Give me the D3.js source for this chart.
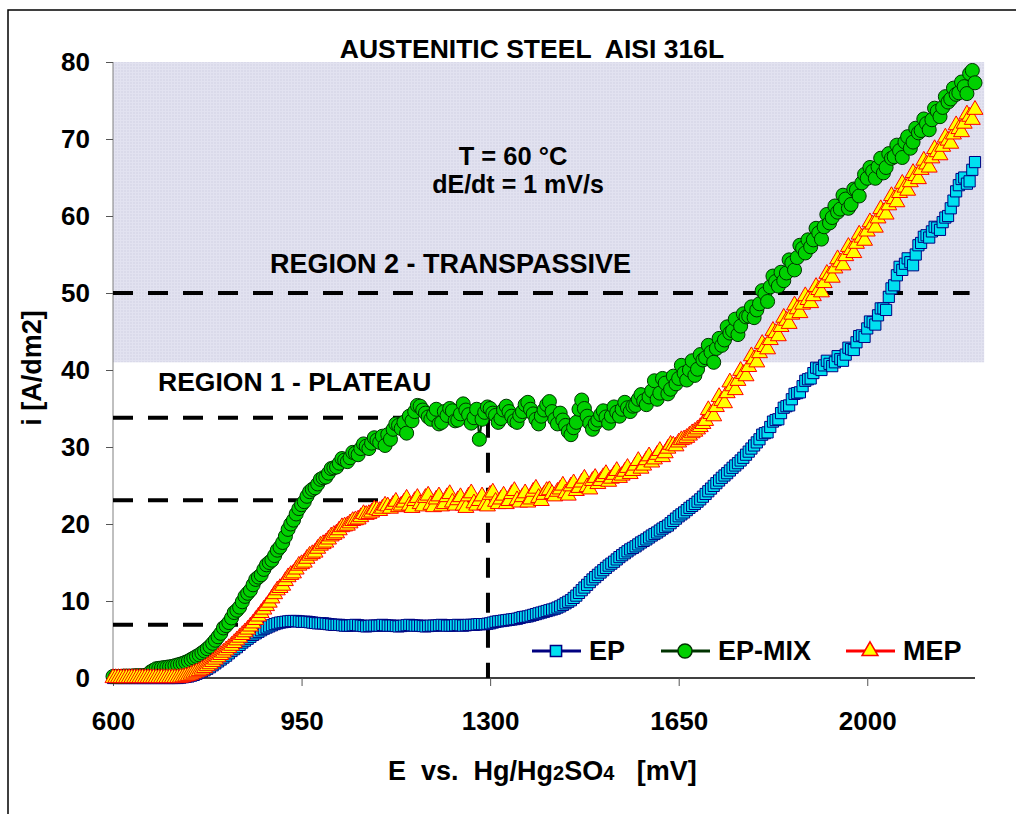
<!DOCTYPE html>
<html>
<head>
<meta charset="utf-8">
<script src="https://cdn.jsdelivr.net/npm/d3@7"></script>
<style>
  body { margin: 0; background: #fff; }
  svg text { font-family: "Liberation Sans", Arial, sans-serif; font-weight: bold; fill: #000; }
</style>
</head>
<body>
<div id="graph"></div>
<script>
// Chart data (E in mV vs. Hg/Hg2SO4, i in A/dm2), one reading every 5 mV
var potential = [
  600, 605, 610, 615, 620, 625, 630, 635, 640, 645, 650, 655, 660, 665, 670, 675, 680, 685, 690, 695,
  700, 705, 710, 715, 720, 725, 730, 735, 740, 745, 750, 755, 760, 765, 770, 775, 780, 785, 790, 795,
  800, 805, 810, 815, 820, 825, 830, 835, 840, 845, 850, 855, 860, 865, 870, 875, 880, 885, 890, 895,
  900, 905, 910, 915, 920, 925, 930, 935, 940, 945, 950, 955, 960, 965, 970, 975, 980, 985, 990, 995,
  1000, 1005, 1010, 1015, 1020, 1025, 1030, 1035, 1040, 1045, 1050, 1055, 1060, 1065, 1070, 1075, 1080, 1085, 1090, 1095,
  1100, 1105, 1110, 1115, 1120, 1125, 1130, 1135, 1140, 1145, 1150, 1155, 1160, 1165, 1170, 1175, 1180, 1185, 1190, 1195,
  1200, 1205, 1210, 1215, 1220, 1225, 1230, 1235, 1240, 1245, 1250, 1255, 1260, 1265, 1270, 1275, 1280, 1285, 1290, 1295,
  1300, 1305, 1310, 1315, 1320, 1325, 1330, 1335, 1340, 1345, 1350, 1355, 1360, 1365, 1370, 1375, 1380, 1385, 1390, 1395,
  1400, 1405, 1410, 1415, 1420, 1425, 1430, 1435, 1440, 1445, 1450, 1455, 1460, 1465, 1470, 1475, 1480, 1485, 1490, 1495,
  1500, 1505, 1510, 1515, 1520, 1525, 1530, 1535, 1540, 1545, 1550, 1555, 1560, 1565, 1570, 1575, 1580, 1585, 1590, 1595,
  1600, 1605, 1610, 1615, 1620, 1625, 1630, 1635, 1640, 1645, 1650, 1655, 1660, 1665, 1670, 1675, 1680, 1685, 1690, 1695,
  1700, 1705, 1710, 1715, 1720, 1725, 1730, 1735, 1740, 1745, 1750, 1755, 1760, 1765, 1770, 1775, 1780, 1785, 1790, 1795,
  1800, 1805, 1810, 1815, 1820, 1825, 1830, 1835, 1840, 1845, 1850, 1855, 1860, 1865, 1870, 1875, 1880, 1885, 1890, 1895,
  1900, 1905, 1910, 1915, 1920, 1925, 1930, 1935, 1940, 1945, 1950, 1955, 1960, 1965, 1970, 1975, 1980, 1985, 1990, 1995,
  2000, 2005, 2010, 2015, 2020, 2025, 2030, 2035, 2040, 2045, 2050, 2055, 2060, 2065, 2070, 2075, 2080, 2085, 2090, 2095,
  2100, 2105, 2110, 2115, 2120, 2125, 2130, 2135, 2140, 2145, 2150, 2155, 2160, 2165, 2170, 2175, 2180, 2185, 2190, 2195,
  2200
];

var epValues = [
  0, 0, 0, 0, 0, 0, 0, 0, 0, 0, 0, 0, 0, 0, 0, 0, 0, 0, 0, 0,
  0, 0, 0, 0, 0, 0.05, 0.1, 0.15, 0.2, 0.3, 0.4, 0.55, 0.7, 0.85, 1.0, 1.2, 1.4, 1.65, 1.9, 2.15,
  2.4, 2.65, 2.9, 3.2, 3.5, 3.75, 4.0, 4.3, 4.6, 4.85, 5.1, 5.35, 5.6, 5.8, 6.0, 6.2, 6.4, 6.55, 6.7, 6.85,
  7.0, 7.1, 7.2, 7.25, 7.3, 7.35, 7.4, 7.4, 7.4, 7.35, 7.3, 7.3, 7.3, 7.25, 7.2, 7.15, 7.1, 7.1, 7.1, 7.05,
  7.0, 6.95, 6.9, 6.9, 6.9, 6.85, 6.8, 6.8, 6.8, 6.85, 6.9, 6.85, 6.8, 6.75, 6.7, 6.75, 6.8, 6.8, 6.8, 6.8,
  6.9, 6.85, 6.8, 6.8, 6.8, 6.75, 6.7, 6.75, 6.8, 6.85, 6.9, 6.85, 6.8, 6.8, 6.8, 6.75, 6.7, 6.75, 6.8, 6.8,
  6.8, 6.85, 6.9, 6.85, 6.8, 6.8, 6.8, 6.85, 6.9, 6.85, 6.8, 6.85, 6.9, 6.9, 6.9, 6.95, 7.0, 7.0, 7.0, 7.05,
  7.1, 7.2, 7.3, 7.35, 7.4, 7.45, 7.5, 7.55, 7.6, 7.65, 7.7, 7.8, 7.9, 7.95, 8.0, 8.1, 8.2, 8.3, 8.4, 8.5,
  8.6, 8.7, 8.8, 8.9, 9.0, 9.15, 9.3, 9.5, 9.7, 9.9, 10.1, 10.4, 10.7, 11.05, 11.4, 11.75, 12.1, 12.45, 12.8, 13.1,
  13.4, 13.7, 14.0, 14.3, 14.6, 14.85, 15.1, 15.4, 15.7, 15.95, 16.2, 16.45, 16.7, 16.9, 17.1, 17.35, 17.6, 17.8, 18.0, 18.25,
  18.5, 18.7, 18.9, 19.15, 19.4, 19.6, 19.8, 20.1, 20.4, 20.7, 21.0, 21.25, 21.5, 21.8, 22.1, 22.35, 22.6, 22.9, 23.2, 23.55,
  23.9, 24.25, 24.6, 24.95, 25.3, 25.65, 26.0, 26.3, 26.6, 26.95, 27.3, 27.6, 27.9, 28.25, 28.6, 29.0, 29.4, 29.8, 30.2, 30.6,
  31.0, 31.6, 31.8, 31.9, 32.6, 33.3, 33.5, 33.6, 34.4, 35.1, 35.3, 35.4, 36.2, 36.9, 37.0, 37.1, 37.9, 38.6, 38.8, 38.9,
  39.6, 40.3, 40.2, 40.0, 40.6, 41.2, 40.8, 40.5, 41.0, 41.8, 41.4, 41.2, 42.0, 42.9, 42.7, 42.6, 43.6, 44.4, 44.5, 44.3,
  45.4, 46.3, 46.2, 45.9, 47.1, 48.0, 48.0, 47.8, 49.5, 50.6, 51.0, 52.3, 53.4, 53.0, 53.8, 54.5, 54.0, 53.6, 55.0, 56.2,
  56.5, 57.3, 57.5, 57.2, 58.0, 58.6, 58.5, 58.2, 59.2, 59.8, 60.0, 61.0, 62.0, 63.2, 64.0, 64.8, 65.0, 64.2, 64.5, 66.0,
  67.0
];

var epMixValues = [
  0.2, 0.2, 0.2, 0.2, 0.25, 0.25, 0.25, 0.25, 0.3, 0.3, 0.3, 0.3, 0.35, 0.4, 0.8, 1.0, 1.2, 1.25, 1.3, 1.35,
  1.4, 1.45, 1.5, 1.6, 1.7, 1.8, 1.9, 2.05, 2.2, 2.4, 2.6, 2.8, 3.0, 3.25, 3.5, 3.8, 4.1, 4.5, 4.9, 5.35,
  5.8, 6.5, 6.8, 7.2, 7.8, 8.5, 8.8, 9.2, 9.9, 10.6, 11.0, 11.4, 12.1, 12.8, 13.1, 13.4, 14.1, 14.7, 15.0, 15.3,
  15.9, 16.6, 17.0, 17.6, 18.4, 19.3, 20.0, 20.5, 21.3, 22.0, 22.5, 22.9, 23.6, 24.2, 24.5, 24.7, 25.2, 25.8, 26.0, 26.1,
  26.6, 27.2, 27.3, 27.4, 27.9, 28.5, 28.3, 28.1, 28.6, 29.3, 29.2, 29.0, 29.8, 30.4, 30.1, 29.8, 30.5, 31.2, 30.9, 30.6,
  31.4, 30.2, 31.6, 31.0, 32.3, 33.0, 32.8, 32.4, 33.2, 31.8, 34.0, 33.4, 34.6, 35.4, 35.3, 34.8, 34.4, 33.9, 33.6, 34.2,
  34.9, 33.0, 33.2, 34.6, 34.1, 35.0, 34.7, 33.4, 33.5, 34.3, 35.6, 34.8, 34.2, 33.1, 33.8, 34.9, 31.0, 33.6, 34.5, 35.2,
  35.0, 34.4, 34.1, 33.2, 33.7, 34.8, 35.3, 34.6, 34.0, 33.4, 33.2, 34.1, 34.6, 35.5, 35.8, 34.9, 34.3, 33.6, 33.0, 34.0,
  34.8, 35.5, 35.9, 34.6, 33.6, 33.0, 34.4, 33.5, 32.8, 32.0, 31.6, 32.5, 33.2, 34.9, 36.1, 35.0, 34.0, 33.1, 32.3, 33.0,
  33.5, 34.2, 34.7, 33.9, 33.1, 34.0, 35.2, 34.5, 34.0, 34.9, 35.8, 35.1, 34.6, 35.3, 35.4, 36.2, 36.8, 36.0, 35.5, 36.5,
  37.3, 38.6, 36.2, 37.0, 38.9, 38.3, 36.9, 37.5, 39.2, 38.2, 38.9, 40.6, 39.6, 38.7, 40.0, 41.2, 39.3, 40.1, 42.0, 41.3,
  41.6, 43.2, 42.3, 41.0, 42.8, 44.1, 43.2, 43.9, 45.6, 44.8, 45.1, 46.6, 44.6, 45.7, 47.3, 46.9, 47.0, 48.2, 46.8, 47.8,
  48.6, 50.3, 49.9, 48.9, 50.8, 52.2, 51.5, 50.9, 52.7, 51.6, 52.6, 54.3, 53.9, 53.0, 54.6, 56.2, 55.8, 55.2, 56.9, 56.0,
  56.9, 58.4, 57.8, 57.0, 58.6, 60.2, 59.1, 59.8, 61.3, 60.5, 60.9, 62.7, 62.2, 61.0, 61.5, 63.5, 63.4, 62.6, 64.3, 65.4,
  64.9, 66.3, 65.8, 64.9, 66.4, 67.5, 65.6, 66.3, 68.1, 67.5, 67.7, 69.2, 68.5, 67.6, 69.6, 70.3, 68.8, 69.6, 71.4, 70.8,
  71.1, 72.6, 72.0, 71.2, 72.5, 74.0, 73.6, 72.9, 74.1, 75.5, 74.8, 75.2, 76.6, 75.8, 76.0, 77.4, 76.8, 75.9, 78.5, 78.9,
  77.3
];

var mepValues = [
  0, 0, 0, 0, 0, 0, 0, 0, 0, 0, 0, 0, 0, 0, 0, 0, 0, 0, 0, 0,
  0, 0, 0, 0, 0, 0.05, 0.1, 0.2, 0.3, 0.45, 0.6, 0.75, 0.9, 1.1, 1.3, 1.55, 1.8, 2.1, 2.4, 2.7,
  3.0, 3.3, 3.6, 3.9, 4.2, 4.55, 4.9, 5.25, 5.6, 5.95, 6.3, 6.7, 7.1, 7.55, 8.0, 8.45, 8.9, 9.35, 9.8, 10.35,
  10.9, 11.4, 11.7, 12.0, 12.6, 13.1, 13.4, 13.6, 14.1, 14.6, 14.8, 15.0, 15.5, 15.9, 16.1, 16.3, 16.8, 17.2, 17.4, 17.6,
  18.0, 18.4, 18.6, 18.8, 19.2, 19.6, 19.7, 19.8, 20.1, 20.4, 20.5, 20.6, 20.9, 21.3, 21.2, 21.3, 21.5, 21.9, 21.8, 21.7,
  22.0, 22.4, 22.3, 22.0, 22.5, 22.9, 22.2, 22.4, 22.8, 23.3, 22.4, 22.1, 23.0, 23.4, 22.6, 22.3, 23.4, 23.7, 22.5, 22.2,
  23.2, 23.6, 22.3, 22.6, 23.5, 23.9, 22.8, 22.4, 23.1, 23.5, 22.4, 22.1, 23.6, 24.0, 22.7, 22.4, 23.0, 23.6, 22.5, 22.3,
  23.8, 24.1, 22.9, 22.6, 23.2, 23.7, 22.6, 23.0, 23.9, 24.3, 23.1, 22.8, 23.5, 24.0, 22.8, 23.2, 24.2, 24.6, 23.4, 23.0,
  23.8, 24.3, 24.4, 23.9, 23.6, 24.2, 24.5, 25.0, 24.0, 23.7, 24.9, 25.3, 24.3, 24.7, 25.4, 25.9, 24.8, 24.5, 25.6, 26.0,
  25.2, 25.6, 26.1, 26.5, 25.5, 25.9, 26.4, 26.9, 26.0, 26.3, 26.8, 27.3, 26.5, 26.9, 27.6, 28.2, 27.2, 27.6, 28.3, 28.8,
  28.0, 28.4, 29.0, 29.5, 28.7, 29.2, 29.8, 30.3, 30.2, 30.1, 30.6, 30.9, 31.0, 31.2, 31.5, 31.8, 32.0, 32.3, 32.6, 33.0,
  33.4, 34.8, 34.3, 34.0, 35.2, 36.5, 36.0, 35.7, 37.0, 38.4, 37.9, 37.4, 38.6, 39.9, 39.5, 39.2, 40.4, 41.8, 41.4, 41.0,
  42.2, 43.4, 43.0, 42.7, 43.9, 45.1, 44.8, 44.4, 45.6, 46.8, 46.4, 46.0, 47.2, 48.4, 47.9, 47.4, 48.5, 49.6, 49.1, 48.7,
  49.6, 50.8, 50.4, 50.1, 51.3, 52.5, 52.3, 52.0, 53.2, 54.4, 54.0, 53.6, 54.8, 56.0, 55.6, 55.2, 56.4, 57.6, 57.2, 56.8,
  58.0, 59.2, 58.9, 58.5, 59.7, 60.9, 60.5, 60.2, 61.4, 62.6, 62.2, 61.8, 63.0, 64.2, 63.7, 63.3, 64.4, 65.6, 65.2, 64.8,
  66.0, 67.2, 66.7, 66.3, 67.5, 68.7, 68.3, 67.9, 69.0, 70.2, 69.8, 69.4, 70.6, 71.8, 71.3, 70.9, 72.0, 73.2, 72.9, 72.5,
  73.8
];

// Axis ticks
var xTicks = [600, 950, 1300, 1650, 2000];
var yTicks = [0, 10, 20, 30, 40, 50, 60, 70, 80];

// Reference lines: plateau levels, transpassive limit, plateau end potential
var plateauLevels = [33.8, 23.1, 6.9];
var transpassiveLevel = 50;
var plateauEnd = 1296;
var regionTwoBottom = 41;

// Series definitions
var series = [
  {name: 'EP', values: epValues, line: '#000080', fill: '#00e0f0', stroke: '#000080', symbol: d3.symbolSquare, size: 125},
  {name: 'EP-MIX', values: epMixValues, line: '#003300', fill: '#00d000', stroke: '#003300', symbol: d3.symbolCircle, size: 155},
  {name: 'MEP', values: mepValues, line: '#ff0000', fill: '#ffff00', stroke: '#ff0000', symbol: d3.symbolTriangle, size: 110}
];

// Graph dimensions
var width = 1016, height = 814;
var plot = {left: 113, right: 975, top: 62, bottom: 678};

// Set ranges
var x = d3.scaleLinear().domain([600, 2200]).range([plot.left, plot.right]),
    y = d3.scaleLinear().domain([0, 80]).range([plot.bottom, plot.top]);

var svg = d3.select('#graph')
    .append('svg')
    .attr('width', width)
    .attr('height', height);

// Background pattern for region 2
var defs = svg.append('defs');
var pat = defs.append('pattern')
    .attr('id', 'grid')
    .attr('width', 3)
    .attr('height', 3)
    .attr('patternUnits', 'userSpaceOnUse');
pat.append('rect').attr('width', 3).attr('height', 3).attr('fill', '#dadaea');
pat.append('rect').attr('width', 3).attr('height', 1).attr('fill', '#e2e2f0');
pat.append('rect').attr('width', 1).attr('height', 3).attr('fill', '#e2e2f0');

// Outer frame
svg.append('rect')
    .attr('x', 8).attr('y', 10)
    .attr('width', 1030).attr('height', 830)
    .attr('fill', 'none')
    .attr('stroke', '#000')
    .attr('stroke-width', 1.5);

// Region 2 shading
svg.append('rect')
    .attr('x', x(600))
    .attr('y', y(80))
    .attr('width', x(2217) - x(600))
    .attr('height', y(regionTwoBottom) - y(80))
    .attr('fill', 'url(#grid)');

// Axes
var yAxis = d3.axisLeft(y).tickValues(yTicks).tickSize(7).tickFormat(d3.format('d'));
var xAxis = d3.axisBottom(x).tickValues(xTicks).tickSize(8).tickFormat(d3.format('d'));

var gy = svg.append('g')
    .attr('transform', 'translate(' + plot.left + ',0)')
    .call(yAxis);
gy.select('.domain').attr('stroke', '#808080').attr('d', 'M0,' + plot.top + 'V' + plot.bottom);
gy.selectAll('.tick line').attr('stroke', '#555');
gy.selectAll('.tick text')
    .attr('x', -23)
    .attr('font-size', 26)
    .attr('font-family', '"Liberation Sans", Arial, sans-serif')
    .attr('font-weight', 'bold')
    .attr('fill', '#000');

var gx = svg.append('g')
    .attr('transform', 'translate(0,' + plot.bottom + ')')
    .call(xAxis);
gx.select('.domain').attr('stroke', '#000').attr('stroke-width', 1.5).attr('d', 'M' + plot.left + ',0H' + plot.right);
gx.selectAll('.tick line').attr('stroke', '#555');
gx.selectAll('.tick text')
    .attr('y', 0)
    .attr('dy', 0)
    .attr('transform', 'translate(0,52)')
    .attr('font-size', 26)
    .attr('font-family', '"Liberation Sans", Arial, sans-serif')
    .attr('font-weight', 'bold')
    .attr('fill', '#000');

// Dashed reference lines
var dash = svg.append('g')
    .attr('stroke', '#000')
    .attr('stroke-width', 4)
    .attr('stroke-dasharray', '20,15')
    .attr('fill', 'none');
dash.append('line')
    .attr('x1', x(600)).attr('x2', x(2190))
    .attr('y1', y(transpassiveLevel)).attr('y2', y(transpassiveLevel));
plateauLevels.forEach(function(level) {
    dash.append('line')
        .attr('x1', x(600)).attr('x2', x(plateauEnd))
        .attr('y1', y(level)).attr('y2', y(level));
});
dash.append('line')
    .attr('x1', x(plateauEnd)).attr('x2', x(plateauEnd))
    .attr('y1', y(plateauLevels[0])).attr('y2', y(0));

// Series lines and markers
var line = d3.line()
    .x(function(d) { return x(d.e); })
    .y(function(d) { return y(d.i); });

series.forEach(function(s) {
    var pts = potential.map(function(e, k) { return {e: e, i: s.values[k]}; });
    var g = svg.append('g');
    g.append('path')
        .attr('d', line(pts))
        .attr('fill', 'none')
        .attr('stroke', s.line)
        .attr('stroke-width', 2);
    g.selectAll('path.mark')
        .data(pts)
        .enter()
        .append('path')
        .attr('class', 'mark')
        .attr('d', d3.symbol().type(s.symbol).size(s.size))
        .attr('transform', function(d) { return 'translate(' + x(d.e) + ',' + y(d.i) + ')'; })
        .attr('fill', s.fill)
        .attr('stroke', s.stroke)
        .attr('stroke-width', 1);
});

// Legend
var legendX = [532, 661, 846];
var legend = svg.append('g');
series.forEach(function(s, k) {
    var lx = legendX[k], ly = 651;
    legend.append('line')
        .attr('x1', lx).attr('x2', lx + 49)
        .attr('y1', ly).attr('y2', ly)
        .attr('stroke', s.line)
        .attr('stroke-width', 3);
    legend.append('path')
        .attr('d', d3.symbol().type(s.symbol).size(s.size))
        .attr('transform', 'translate(' + (lx + 24) + ',' + ly + ')')
        .attr('fill', s.fill)
        .attr('stroke', s.stroke)
        .attr('stroke-width', 1.5);
    legend.append('text')
        .attr('x', lx + 57)
        .attr('y', ly + 9)
        .attr('font-size', 27)
        .text(s.name);
});

// Titles and annotations
svg.append('text')
    .attr('x', 532).attr('y', 58)
    .attr('text-anchor', 'middle')
    .attr('font-size', 26.5)
    .attr('xml:space', 'preserve')
    .text('AUSTENITIC STEEL  AISI 316L');

svg.append('text')
    .attr('x', 513).attr('y', 165)
    .attr('text-anchor', 'middle')
    .attr('font-size', 25.5)
    .text('T = 60 °C');

svg.append('text')
    .attr('x', 518).attr('y', 193)
    .attr('text-anchor', 'middle')
    .attr('font-size', 25)
    .text('dE/dt = 1 mV/s');

svg.append('text')
    .attr('x', 270).attr('y', 273)
    .attr('font-size', 27)
    .text('REGION 2 - TRANSPASSIVE');

svg.append('text')
    .attr('x', 158).attr('y', 391)
    .attr('font-size', 26.5)
    .text('REGION 1 - PLATEAU');

// Axis titles
svg.append('text')
    .attr('transform', 'translate(41,368) rotate(-90)')
    .attr('text-anchor', 'middle')
    .attr('font-size', 27)
    .text('i [A/dm2]');

var xt = svg.append('text')
    .attr('x', 388).attr('y', 780)
    .attr('font-size', 27)
    .attr('xml:space', 'preserve');
xt.append('tspan').text('E  vs.  Hg/Hg');
xt.append('tspan').attr('font-size', 20).text('2');
xt.append('tspan').text('SO');
xt.append('tspan').attr('font-size', 20).text('4');
xt.append('tspan').text('   [mV]');
</script>
</body>
</html>
